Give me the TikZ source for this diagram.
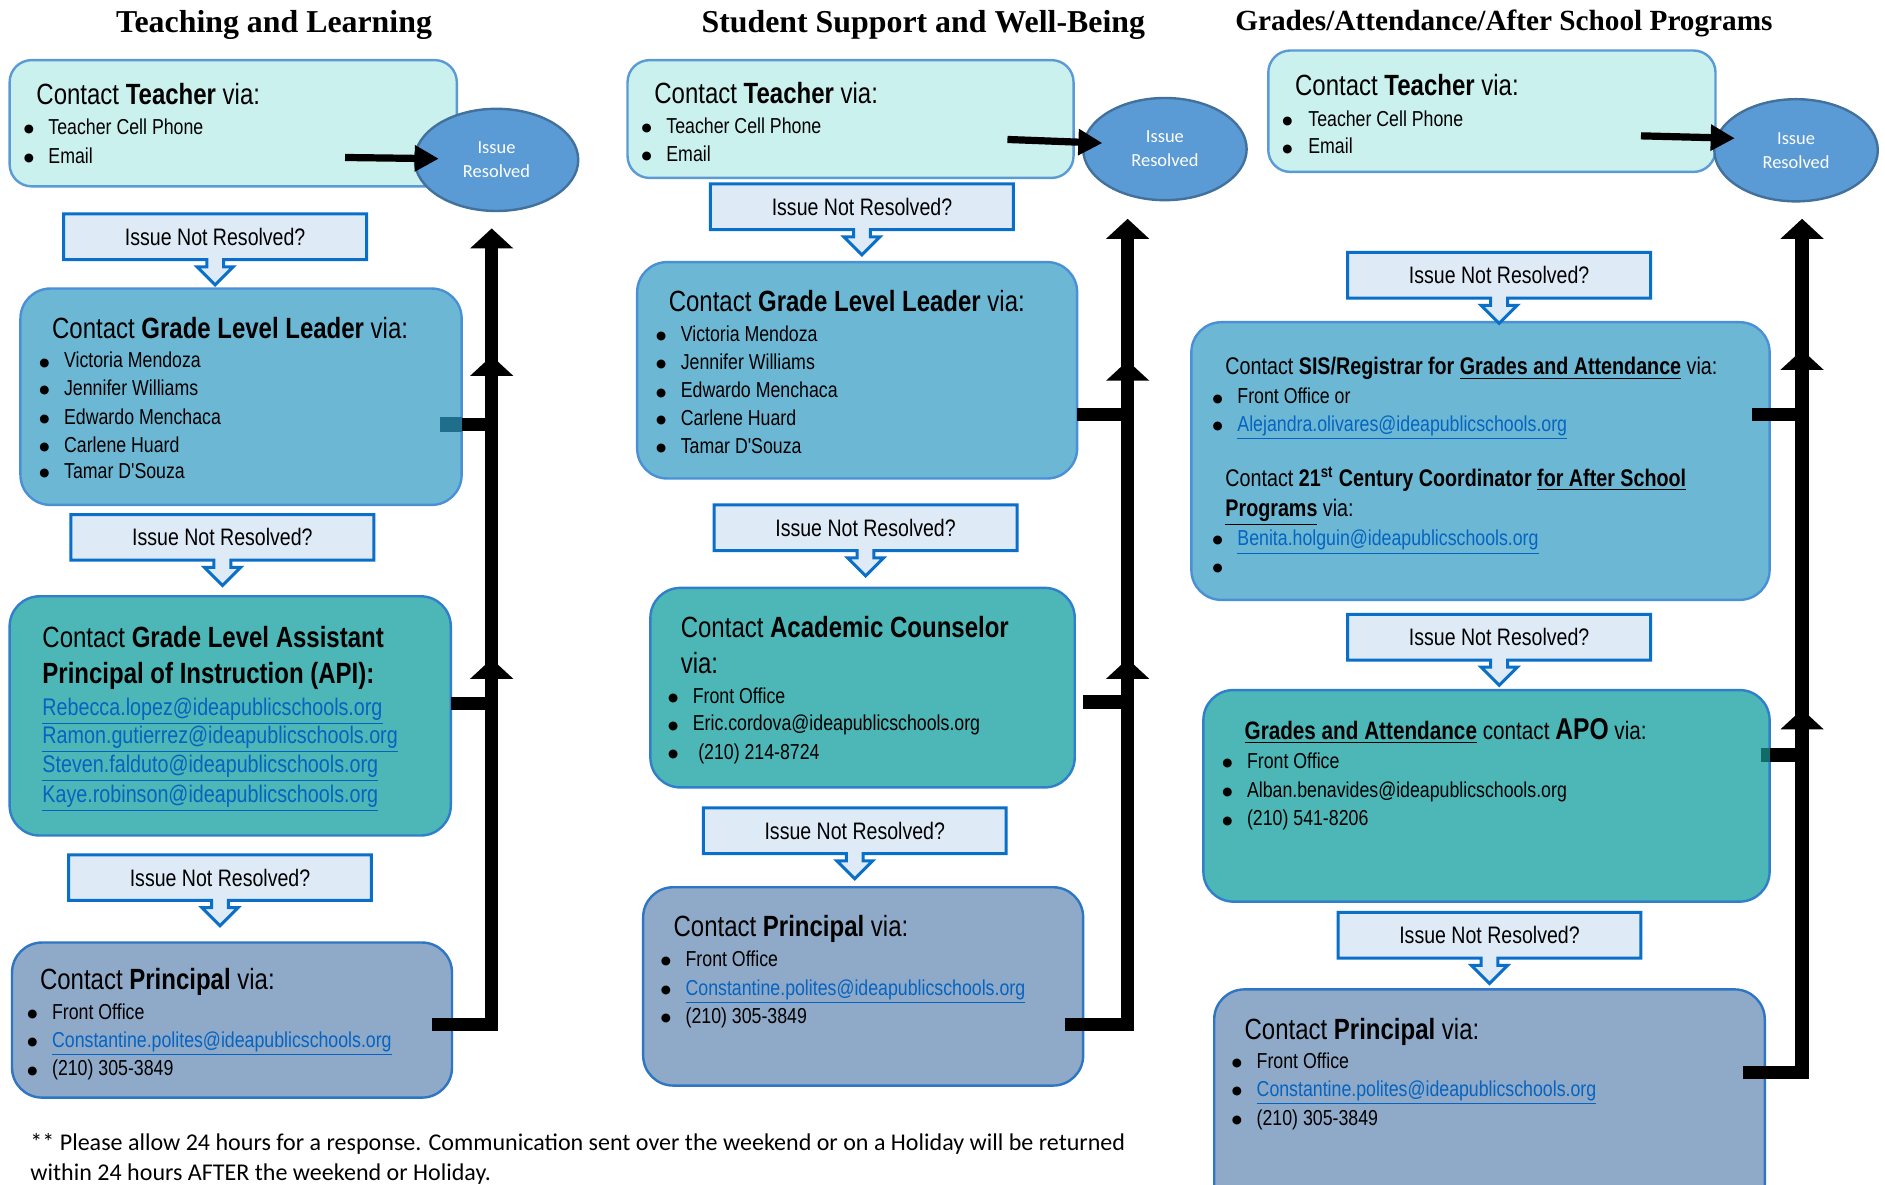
\documentclass[tikz,border=0pt]{standalone}
\usepackage{fontspec}
\setmainfont{Liberation Serif}
\newfontfamily\narf[FakeStretch=0.82]{Liberation Sans}
\newfontfamily\dvsans{DejaVu Sans}
\newfontfamily\calf{Carlito}
\usetikzlibrary{arrows.meta,shapes.geometric,fit}

\definecolor{tchfill}{HTML}{CBF1EF}
\definecolor{tchdraw}{HTML}{5B9BD5}
\definecolor{gllfill}{HTML}{6CB8D4}
\definecolor{glldraw}{HTML}{4A90D6}
\definecolor{apifill}{HTML}{4DB6B6}
\definecolor{apidraw}{HTML}{2F7FCB}
\definecolor{prfill}{HTML}{8FAAC8}
\definecolor{prdraw}{HTML}{2E75C3}
\definecolor{inrfill}{HTML}{DEEAF6}
\definecolor{inrdraw}{HTML}{0A6FC8}
\definecolor{ellfill}{HTML}{5B9BD5}
\definecolor{elldraw}{HTML}{41719C}
\definecolor{linkblue}{HTML}{0563C1}
\definecolor{stubA}{HTML}{1F6E8C}
\definecolor{stubB}{HTML}{126B6B}

\newcommand\lnk[1]{\textcolor{linkblue}{\underline{#1}}}
\newcommand\uln[1]{\underline{#1}}
\newcommand\bul[5]{\node[bdot] (#1d) at (#2,#4) {●}; \node[sub] (#1) at (#3,#4) {#5};}
\newcommand\inrbox[3]{%
 \begin{scope}[shift={(#2,#3)}]
  \filldraw[inrshape] (-126,-19) -- (126,-19) -- (126,19) -- (7,19) -- (7,25) -- (15,25) -- (0,40) -- (-15,25) -- (-7,25) -- (-7,19) -- (-126,19) -- cycle;
  \node[inrtext] (#1) at (0,0) {Issue Not Resolved?};
 \end{scope}}

\tikzset{
 boxbase/.style={inner sep=0pt, line width=1.2pt, rounded corners=15pt},
 tchbox/.style={boxbase, fill=tchfill, draw=tchdraw, rounded corners=11pt},
 gllbox/.style={boxbase, fill=gllfill, draw=glldraw},
 apibox/.style={boxbase, fill=apifill, draw=apidraw},
 prbox/.style={boxbase, fill=prfill, draw=prdraw},
 head/.style={anchor=base west, inner sep=0pt, yshift=-5pt, font=\narf\fontsize{14.6}{17}\selectfont},
 midhead/.style={anchor=base west, inner sep=0pt, yshift=-4.1pt, font=\narf\fontsize{12}{14}\selectfont},
 sub/.style={anchor=base west, inner sep=0pt, yshift=-3.6pt, font=\narf\fontsize{10.8}{13}\selectfont},
 mail/.style={anchor=base west, inner sep=0pt, yshift=-4.1pt, font=\narf\fontsize{12}{14}\selectfont},
 bdot/.style={anchor=center, inner sep=0pt, yshift=-1.2pt, font=\dvsans\fontsize{5.8}{6}\selectfont},
 ttl/.style={anchor=base, inner sep=0pt, font=\bfseries\fontsize{15.9}{18}\selectfont},
 inrtext/.style={anchor=center, inner sep=0pt, font=\narf\fontsize{11.9}{14}\selectfont},
 inrshape/.style={fill=inrfill, draw=inrdraw, line width=1.5pt},
 res/.style={ellipse, fill=ellfill, draw=elldraw, line width=1.2pt, minimum width=81.6pt, minimum height=51pt, inner sep=0pt, text=white, align=center, font=\calf\fontsize{9.2}{12}\selectfont},
 uparr/.style={line width=6.6pt, line join=miter, -{Triangle[width=21pt,length=10pt]}},
 sidearr/.style={line width=3.6pt, -{Triangle[width=12.5pt,length=12pt]}},
 foot/.style={anchor=base west, inner sep=0pt, font=\calf\fontsize{12}{14}\selectfont},
}

\begin{document}
\begin{tikzpicture}[x=0.6pt,y=-0.6pt]
\useasboundingbox[fill=white] (0,0) rectangle (1568,985);

% titles
\node[ttl] (h1) at (228,27) {Teaching and Learning};
\node[ttl] (h2) at (768,27) {Student Support and Well-Being};
\node[ttl, font=\bfseries\fontsize{14.6}{17}\selectfont] (h3) at (1251,25) {Grades/Attendance/After School Programs};

% ---------- boxes ----------
\node[tchbox, fit={(8,50) (380,155)}] (t1) {};
\node[gllbox, fit={(17,240) (384,420)}] (g1) {};
\node[apibox, fit={(8,496) (375,695)}] (a1) {};
\node[prbox, fit={(10,784) (376,913)}] (p1) {};

\node[tchbox, fit={(522,50) (893,148)}] (t2) {};
\node[gllbox, fit={(530,218) (896,398)}] (g2) {};
\node[apibox, fit={(541,489) (894,655)}] (c2) {};
\node[prbox, fit={(535,738) (901,903)}] (p2) {};

\node[tchbox, fit={(1055,42) (1427,143)}] (t3) {};
\node[gllbox, fit={(991,268) (1472,499)}] (s3) {};
\node[apibox, fit={(1001,574) (1472,750)}] (a3) {};
\node[prbox, fit={(1010,823) (1468,1010)}] (p3) {};

% ---------- Issue Not Resolved callouts ----------
\inrbox{n11}{179}{197}
\inrbox{n12}{185}{447}
\inrbox{n13}{183}{730}
\inrbox{n21}{717}{172}
\inrbox{n22}{720}{439}
\inrbox{n23}{711}{691}
\inrbox{n31}{1247}{229}
\inrbox{n32}{1247}{530}
\inrbox{n33}{1239}{778}

% ---------- resolved ellipses ----------
\node[res] (r1) at (413,133) {Issue\\Resolved};
\node[res] (r2) at (969,124) {Issue\\Resolved};
\node[res] (r3) at (1494,125) {Issue\\Resolved};

% ---------- column 1 texts ----------
\node[head] (t1h) at (30,79) {Contact \textbf{Teacher} via:};
\bul{t1a}{24}{40}{106}{Teacher Cell Phone}
\bul{t1b}{24}{40}{130}{Email}

\node[head] (g1h) at (43,273) {Contact \textbf{Grade Level Leader} via:};
\bul{g1a}{37}{53}{300}{Victoria Mendoza}
\bul{g1b}{37}{53}{323}{Jennifer Williams}
\bul{g1c}{37}{53}{347}{Edwardo Menchaca}
\bul{g1e}{37}{53}{370}{Carlene Huard}
\bul{g1f}{37}{53}{392}{Tamar D'Souza}

\node[head] (a1h) at (35,530) {Contact \textbf{Grade Level Assistant}};
\node[head] (a1i) at (35,560) {\textbf{Principal of Instruction (API):}};
\node[mail] (a1a) at (35,588) {\lnk{Rebecca.lopez@ideapublicschools.org}};
\node[mail] (a1b) at (35,612) {\lnk{Ramon.gutierrez@ideapublicschools.org}};
\node[mail] (a1c) at (35,636) {\lnk{Steven.falduto@ideapublicschools.org}};
\node[mail] (a1e) at (35,661) {\lnk{Kaye.robinson@ideapublicschools.org}};

\node[head] (p1h) at (33,815) {Contact \textbf{Principal} via:};
\bul{p1a}{27}{43}{842}{Front Office}
\bul{p1b}{27}{43}{865}{\lnk{Constantine.polites@ideapublicschools.org}}
\bul{p1c}{27}{43}{889}{(210) 305-3849}

% ---------- column 2 texts ----------
\node[head] (t2h) at (544,78) {Contact \textbf{Teacher} via:};
\bul{t2a}{538}{554}{105}{Teacher Cell Phone}
\bul{t2b}{538}{554}{128}{Email}

\node[head] (g2h) at (556,251) {Contact \textbf{Grade Level Leader} via:};
\bul{g2a}{550}{566}{278}{Victoria Mendoza}
\bul{g2b}{550}{566}{301}{Jennifer Williams}
\bul{g2c}{550}{566}{325}{Edwardo Menchaca}
\bul{g2e}{550}{566}{348}{Carlene Huard}
\bul{g2f}{550}{566}{371}{Tamar D'Souza}

\node[head] (c2h) at (566,522) {Contact \textbf{Academic Counselor}};
\node[head] (c2i) at (566,552) {via:};
\bul{c2a}{560}{576}{579}{Front Office}
\bul{c2b}{560}{576}{602}{Eric.cordova@ideapublicschools.org}
\bul{c2c}{560}{576}{626}{\hspace{0.25em}(210) 214-8724}

\node[head] (p2h) at (560,771) {Contact \textbf{Principal} via:};
\bul{p2a}{554}{570}{798}{Front Office}
\bul{p2b}{554}{570}{822}{\lnk{Constantine.polites@ideapublicschools.org}}
\bul{p2c}{554}{570}{845}{(210) 305-3849}

% ---------- column 3 texts ----------
\node[head] (t3h) at (1077,71) {Contact \textbf{Teacher} via:};
\bul{t3a}{1071}{1088}{99}{Teacher Cell Phone}
\bul{t3b}{1071}{1088}{122}{Email}

\node[midhead] (s3h) at (1019,305) {Contact \textbf{SIS/Registrar for \uln{Grades and Attendance}} via:};
\bul{s3a}{1013}{1029}{330}{Front Office or}
\bul{s3b}{1013}{1029}{353}{\lnk{Alejandra.olivares@ideapublicschools.org}}
\node[midhead] (s3i) at (1019,398) {Contact \textbf{21\textsuperscript{st} Century Coordinator \uln{for After School}}};
\node[midhead] (s3j) at (1019,423) {\textbf{\uln{Programs}} via:};
\bul{s3c}{1013}{1029}{448}{\lnk{Benita.holguin@ideapublicschools.org}}
\node[bdot] (s3e) at (1013,471) {●};

\node[midhead, font=\narf\fontsize{12.6}{15}\selectfont] (a3h) at (1035,608) {\textbf{\uln{Grades and Attendance}} contact {\fontsize{15}{17}\selectfont\textbf{APO}} via:};
\bul{a3a}{1021}{1037}{633}{Front Office}
\bul{a3b}{1021}{1037}{657}{Alban.benavides@ideapublicschools.org}
\bul{a3c}{1021}{1037}{681}{(210) 541-8206}

\node[head] (p3h) at (1035,856) {Contact \textbf{Principal} via:};
\bul{p3a}{1029}{1045}{883}{Front Office}
\bul{p3b}{1029}{1045}{906}{\lnk{Constantine.polites@ideapublicschools.org}}
\bul{p3c}{1029}{1045}{930}{(210) 305-3849}

% ---------- footnote ----------
\node[foot] (f1) at (25,957) {** Please allow 24 hours for a response. Communication sent over the weekend or on a Holiday will be returned};
\node[foot] (f2) at (25,982) {within 24 hours AFTER the weekend or Holiday.};

% ---------- connectors ----------
\coordinate (t1s) at (287,131); \coordinate (t1e) at (365,132);
\coordinate (t2s) at (838,116); \coordinate (t2e) at (917,119);
\coordinate (t3s) at (1365,113); \coordinate (t3e) at (1443,115);
\draw[sidearr] (t1s) -- (t1e);
\draw[sidearr] (t2s) -- (t2e);
\draw[sidearr] (t3s) -- (t3e);

% column 1
\coordinate (g1o) at (366,353); \coordinate (r1u) at (409,190);
\coordinate (a1o) at (375,585); \coordinate (g1u) at (409,296);
\coordinate (p1o) at (359,852); \coordinate (a1u) at (409,548);
\draw[uparr] (p1o) -| (a1u);
\draw[uparr] (a1o) -| (g1u);
\draw[uparr] (g1o) -| (r1u);
\fill[stubA] (366,347) rectangle (384,359);

% column 2
\coordinate (g2o) at (896,345); \coordinate (r2u) at (938,182);
\coordinate (c2o) at (901,584); \coordinate (g2u) at (938,300);
\coordinate (p2o) at (886,852); \coordinate (c2u) at (938,548);
\draw[uparr] (p2o) -| (c2u);
\draw[uparr] (c2o) -| (g2u);
\draw[uparr] (g2o) -| (r2u);

% column 3
\coordinate (s3o) at (1457,345); \coordinate (r3u) at (1499,182);
\coordinate (a3o) at (1465,628); \coordinate (s3u) at (1499,291);
\coordinate (p3o) at (1450,892); \coordinate (a3u) at (1499,590);
\draw[uparr] (p3o) -| (a3u);
\draw[uparr] (a3o) -| (s3u);
\draw[uparr] (s3o) -| (r3u);
\fill[stubB] (1465,622) rectangle (1472,634);
\end{tikzpicture}
\end{document}
